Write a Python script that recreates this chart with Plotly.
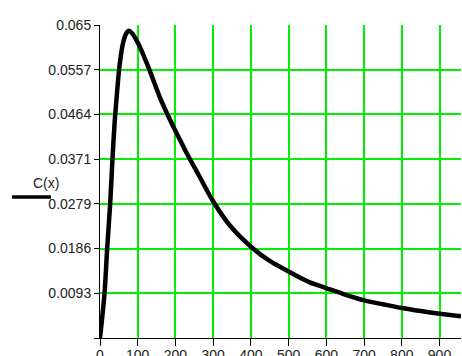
import plotly.graph_objects as go

x_vals = [0, 12, 19, 27, 33, 39, 45, 50, 55, 61, 68, 76, 85, 103, 129, 160, 178, 196,
          213, 231, 262, 299, 346, 404, 450, 500, 532, 558, 599, 650, 700, 750, 800,
          850, 900, 957]
c_vals = [0, 0.0093, 0.0186, 0.0279, 0.0371, 0.045, 0.0508, 0.0553, 0.0585, 0.0612,
          0.0630, 0.0638, 0.0633, 0.0609, 0.0561, 0.0497, 0.0466, 0.0436, 0.0410,
          0.0382, 0.0338, 0.0285, 0.0232, 0.0187, 0.0160, 0.0138, 0.01246, 0.0115,
          0.01038, 0.0090, 0.00781, 0.0070, 0.00623, 0.0056, 0.00505, 0.00449]

x_ticks = [0, 100, 200, 300, 400, 500, 600, 700, 800, 900]
y_ticks = [0, 0.065 / 7, 2 * 0.065 / 7, 3 * 0.065 / 7, 4 * 0.065 / 7, 5 * 0.065 / 7, 6 * 0.065 / 7, 0.065]
y_labels = ["", "0.0093", "0.0186", "0.0279", "0.0371", "0.0464", "0.0557", "0.065"]

green = "rgb(0,240,0)"
font = dict(family="Liberation Sans, Arial, sans-serif", size=14, color="#222")

W, H = 462, 356
ML, MR, MT, MB = 100, 1, 25, 18
PW, PH = W - ML - MR, H - MT - MB

fig = go.Figure()
fig.add_trace(go.Scatter(x=x_vals, y=c_vals, mode="lines",
                         line=dict(color="black", width=4.5, shape="spline", smoothing=0.8),
                         showlegend=False, hoverinfo="skip"))

fig.update_layout(
    width=W, height=H,
    margin=dict(l=ML, r=MR, t=MT, b=MB, autoexpand=False),
    paper_bgcolor="white", plot_bgcolor="white",
    font=font,
    xaxis=dict(range=[0, 957], tickvals=x_ticks, ticktext=[str(v) for v in x_ticks],
               showgrid=True, gridcolor=green, gridwidth=1.5,
               showline=True, linecolor="black", linewidth=1,
               ticks="outside", ticklen=7, tickcolor="black", tickwidth=1,
               ticklabelstandoff=-3,
               zeroline=False, tickfont=font, automargin=False),
    yaxis=dict(range=[0, 0.065], tickvals=y_ticks, ticktext=y_labels,
               showgrid=True, gridcolor=green, gridwidth=1.5,
               showline=True, linecolor="black", linewidth=1,
               ticks="outside", ticklen=5, tickcolor="black", tickwidth=1,
               zeroline=False, tickfont=font, automargin=False),
    annotations=[dict(text="C(x)", xref="paper", yref="paper",
                      x=(31 - ML) / PW, y=(H - MB - 183) / PH,
                      showarrow=False, font=font)],
)
fig.add_shape(type="line", xref="paper", yref="paper",
              x0=(12 - ML) / PW, x1=(51 - ML) / PW,
              y0=(H - MB - 197) / PH, y1=(H - MB - 197) / PH,
              line=dict(color="black", width=3.5))

fig.write_html("out.html", config={"displayModeBar": False},
               post_script="document.body.style.margin='0';document.body.style.overflow='hidden';")
